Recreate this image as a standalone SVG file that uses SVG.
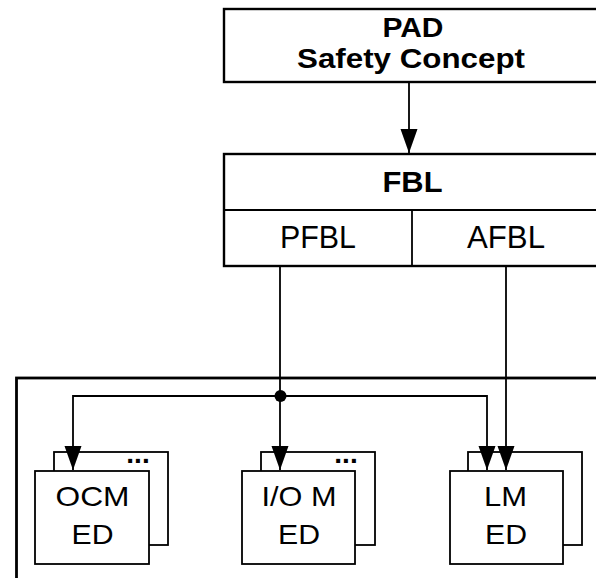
<svg xmlns="http://www.w3.org/2000/svg" width="596" height="578" viewBox="0 0 596 578">
<style>
.box{fill:#fff;stroke:#000;stroke-width:2.4}
.sm{fill:#fff;stroke:#000;stroke-width:1.8}
.ln{fill:none;stroke:#000;stroke-width:1.8}
.t{font-family:"Liberation Sans",Arial,sans-serif;text-anchor:middle;fill:#000}
.b{font-weight:bold}
</style>
<defs>
<marker id="ah" markerUnits="userSpaceOnUse" markerWidth="26" markerHeight="18" viewBox="0 0 26 18" refX="24" refY="9" orient="auto">
<polygon points="0,0.5 0,17.5 24,9" fill="#000"/>
</marker>
</defs>
<rect x="16.5" y="378" width="600" height="220" fill="none" stroke="#000" stroke-width="2.8"/>
<g id="pad">
<rect class="box" x="224" y="9" width="374" height="73"/>
<text class="t b" x="413" y="37" font-size="27.5" textLength="61" lengthAdjust="spacingAndGlyphs">PAD</text>
<text class="t b" x="411" y="68" font-size="27.5" textLength="228" lengthAdjust="spacingAndGlyphs">Safety Concept</text>
</g>
<g id="fbl">
<rect class="box" x="224" y="154" width="376" height="112"/>
<line x1="224" y1="210" x2="600" y2="210" stroke="#000" stroke-width="1.8"/>
<line x1="412" y1="210" x2="412" y2="266" stroke="#000" stroke-width="1.8"/>
<text class="t b" x="412.5" y="192" font-size="30" textLength="60" lengthAdjust="spacingAndGlyphs">FBL</text>
<text class="t" x="318" y="248" font-size="30.5" textLength="76" lengthAdjust="spacingAndGlyphs">PFBL</text>
<text class="t" x="506" y="248" font-size="30.5" textLength="78" lengthAdjust="spacingAndGlyphs">AFBL</text>
</g>
<g id="ocm">
<rect class="sm" x="54" y="452" width="114" height="93"/>
<text class="t b" x="138" y="463" font-size="28">...</text>
<rect class="sm" x="35" y="471" width="114" height="93"/>
<text class="t" x="92.5" y="506" font-size="28.5" textLength="74" lengthAdjust="spacingAndGlyphs">OCM</text>
<text class="t" x="92.5" y="544" font-size="28.5" textLength="42" lengthAdjust="spacingAndGlyphs">ED</text>
</g>
<g id="iom">
<rect class="sm" x="261" y="452" width="114" height="93"/>
<text class="t b" x="346" y="463" font-size="28">...</text>
<rect class="sm" x="242" y="471" width="113" height="93"/>
<text class="t" x="299" y="506" font-size="28.5" textLength="75" lengthAdjust="spacingAndGlyphs">I/O M</text>
<text class="t" x="299" y="544" font-size="28.5" textLength="42" lengthAdjust="spacingAndGlyphs">ED</text>
</g>
<g id="lm">
<rect class="sm" x="468" y="452" width="114" height="93"/>
<rect class="sm" x="450" y="471" width="113" height="93"/>
<text class="t" x="505.5" y="506" font-size="28.5" textLength="43" lengthAdjust="spacingAndGlyphs">LM</text>
<text class="t" x="506" y="544" font-size="28.5" textLength="42" lengthAdjust="spacingAndGlyphs">ED</text>
</g>
<g id="connectors">
<line class="ln" x1="409" y1="82" x2="409" y2="153" marker-end="url(#ah)"/>
<line class="ln" x1="280" y1="266" x2="280" y2="470" marker-end="url(#ah)"/>
<polyline class="ln" points="280,396 73,396 73,470" marker-end="url(#ah)"/>
<polyline class="ln" points="280,396 487,396 487,470" marker-end="url(#ah)"/>
<line class="ln" x1="506" y1="266" x2="506" y2="470" marker-end="url(#ah)"/>
<circle cx="280.5" cy="396" r="6" fill="#000"/>
</g>
</svg>
